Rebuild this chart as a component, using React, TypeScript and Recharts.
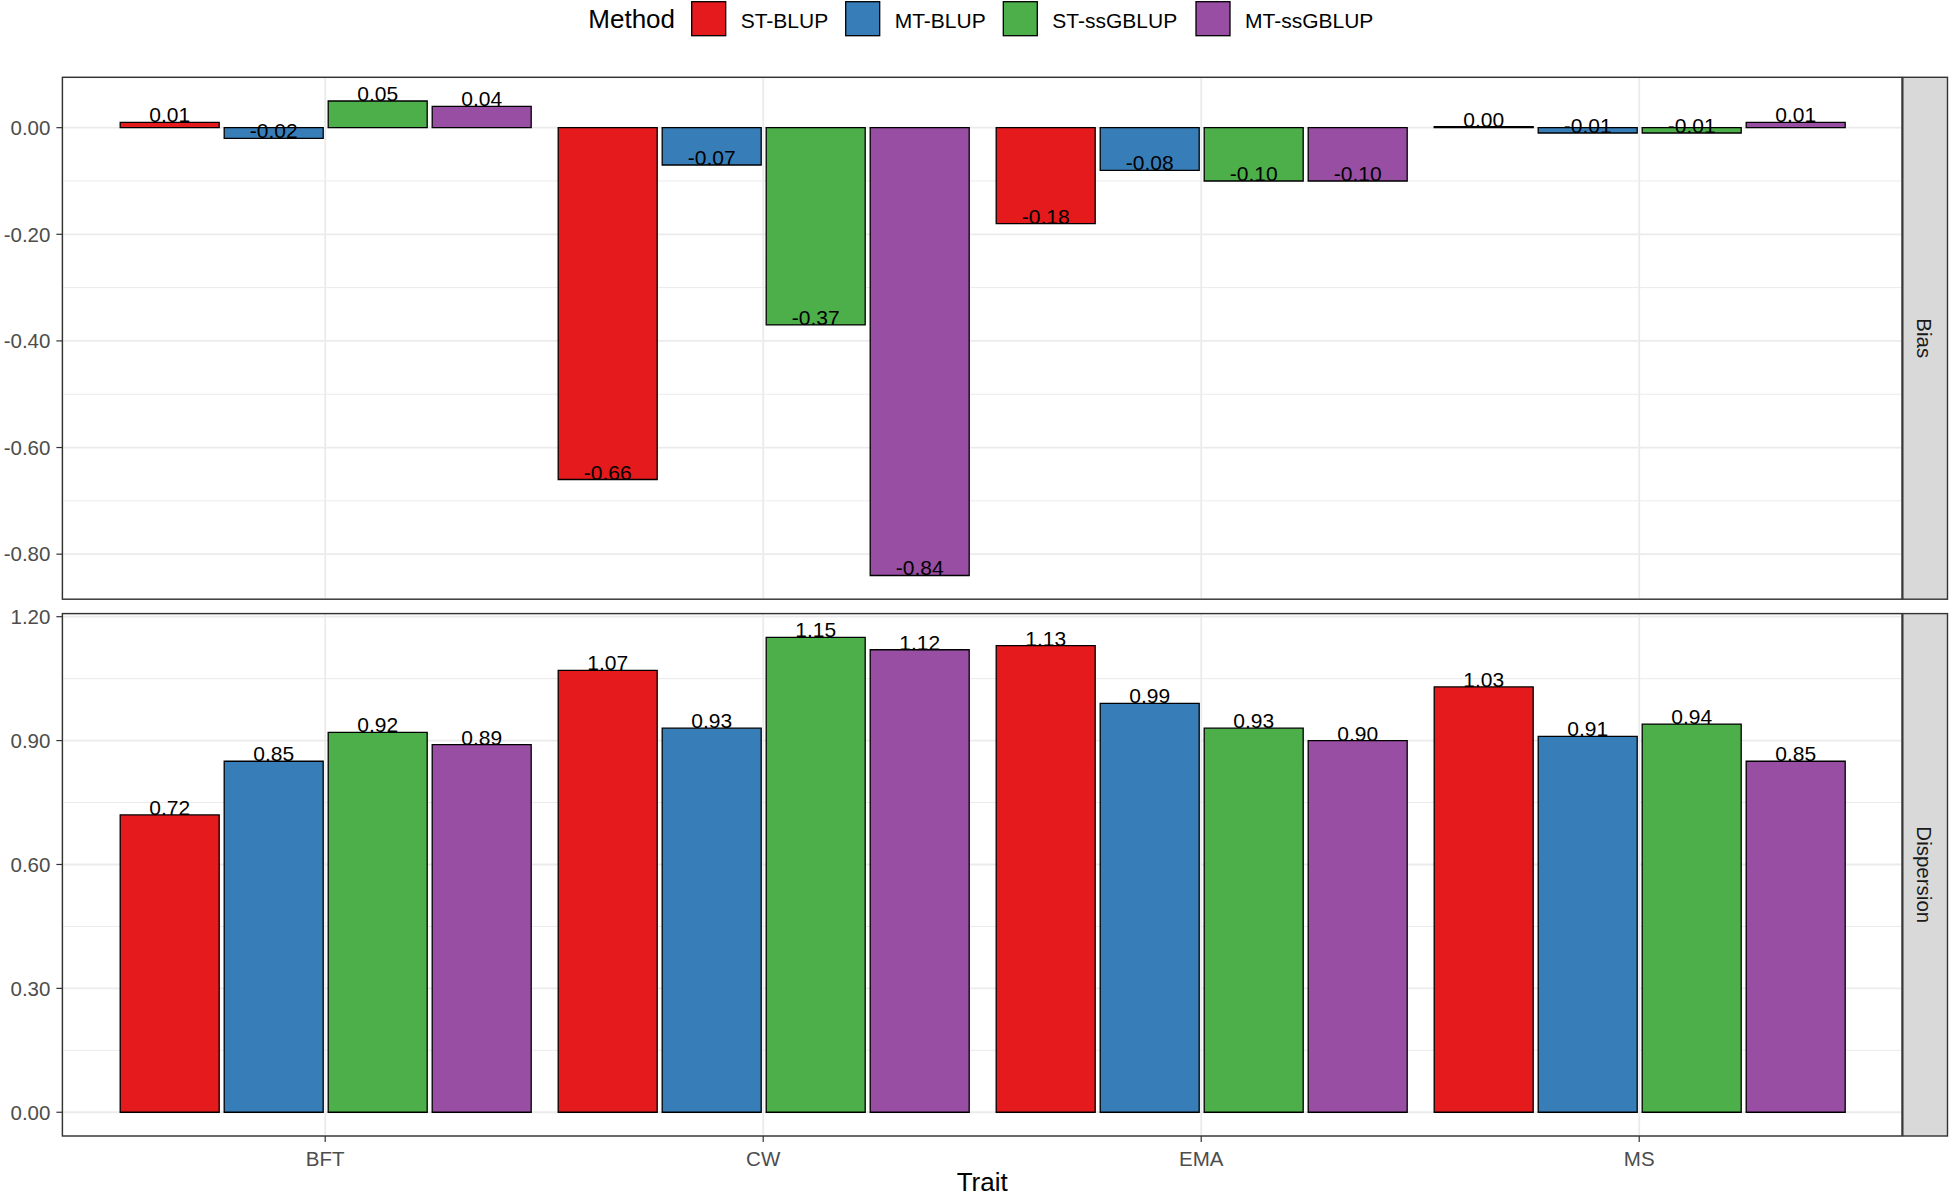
import React from 'react';
import { BarChart, Bar, XAxis, YAxis, CartesianGrid, LabelList } from 'recharts';

const traits = ['BFT', 'CW', 'EMA', 'MS'];
const methods = ['ST-BLUP', 'MT-BLUP', 'ST-ssGBLUP', 'MT-ssGBLUP'];
const methodColors = ['#E41A1C', '#377EB8', '#4DAF4A', '#984EA3'];

const biasSTBLUP = [0.01, -0.66, -0.18, 0.0];
const biasMTBLUP = [-0.02, -0.07, -0.08, -0.01];
const biasSTssGBLUP = [0.05, -0.37, -0.1, -0.01];
const biasMTssGBLUP = [0.04, -0.84, -0.1, 0.01];

const dispSTBLUP = [0.72, 1.07, 1.13, 1.03];
const dispMTBLUP = [0.85, 0.93, 0.99, 0.91];
const dispSTssGBLUP = [0.92, 1.15, 0.93, 0.94];
const dispMTssGBLUP = [0.89, 1.12, 0.9, 0.85];

const biasTicks = [-0.8, -0.6, -0.4, -0.2, 0];
const biasMinor = [-0.7, -0.5, -0.3, -0.1];
const dispTicks = [0, 0.3, 0.6, 0.9, 1.2];
const dispMinor = [0.15, 0.45, 0.75, 1.05];

const FONT = "'Liberation Sans', Arial, Helvetica, sans-serif";

const buildRows = (series: number[][]) =>
  traits.map((t, i) => {
    const row: Record<string, any> = { trait: t };
    methods.forEach((m, j) => {
      row[m] = series[j][i];
    });
    return row;
  });

const biasRows = buildRows([biasSTBLUP, biasMTBLUP, biasSTssGBLUP, biasMTssGBLUP]);
const dispRows = buildRows([dispSTBLUP, dispMTBLUP, dispSTssGBLUP, dispMTssGBLUP]);

const expandDomain = (series: number[][]): [number, number] => {
  const all = series.flat().concat([0]);
  const lo = Math.min(...all);
  const hi = Math.max(...all);
  const r = hi - lo;
  return [lo - 0.05 * r, hi + 0.05 * r];
};

const biasDomain = expandDomain([biasSTBLUP, biasMTBLUP, biasSTssGBLUP, biasMTssGBLUP]);
const dispDomain = expandDomain([dispSTBLUP, dispMTBLUP, dispSTssGBLUP, dispMTssGBLUP]);

// layout
const W = 1950;
const H = 1197;
const PL = 62.4;
const PR = 1902;
const TOP1 = 77.3;
const BOT1 = 599.2;
const TOP2 = 613.6;
const BOT2 = 1136;
const STRIP_R = 1947.5;

const renderLabel = (props: any) => {
  const { x, y, width, height, value } = props;
  const v = Number(value);
  const a = Number(y);
  const b = Number(y) + Number(height);
  const ty = v >= 0 ? Math.min(a, b) : Math.max(a, b);
  return (
    <text
      x={Number(x) + Number(width) / 2}
      y={ty}
      textAnchor="middle"
      fontSize={21}
      fontFamily={FONT}
      fill="#000000"
    >
      {v.toFixed(2)}
    </text>
  );
};

type PanelProps = {
  rows: any[];
  domain: [number, number];
  ticks: number[];
  minor: number[];
  height: number;
  top: number;
  marginTop: number;
  showX: boolean;
  xHeight: number;
};

const Panel = ({ rows, domain, ticks, minor, height, top, marginTop, showX, xHeight }: PanelProps) => (
  <div style={{ position: 'absolute', left: 0, top, width: W, height }}>
    <BarChart
      width={W}
      height={height}
      data={rows}
      margin={{ top: marginTop, right: W - PR, bottom: showX ? 0 : height - marginTop - (BOT1 - TOP1), left: 0 }}
      barCategoryGap={14}
      barGap={5}
    >
      <CartesianGrid horizontal={false} vertical={true} stroke="#EBEBEB" strokeWidth={1.8} />
      <CartesianGrid horizontal={true} vertical={false} horizontalValues={minor} stroke="#EBEBEB" strokeWidth={1} />
      <CartesianGrid horizontal={true} vertical={false} stroke="#EBEBEB" strokeWidth={1.8} />
      <XAxis
        dataKey="trait"
        type="category"
        hide={!showX}
        height={xHeight}
        padding={{ left: 43.8, right: 43.8 }}
        axisLine={false}
        tickSize={6}
        tickMargin={9}
        tickLine={{ stroke: '#333333', strokeWidth: 1.2 }}
        tick={{ fill: '#4D4D4D', fontSize: 20.5, fontFamily: FONT }}
        interval={0}
      />
      <YAxis
        type="number"
        domain={domain}
        ticks={ticks}
        width={PL}
        allowDataOverflow={true}
        axisLine={false}
        tickSize={6}
        tickMargin={6}
        tickLine={{ stroke: '#333333', strokeWidth: 1.2 }}
        tick={{ fill: '#4D4D4D', fontSize: 20.5, fontFamily: FONT }}
        tickFormatter={(v: number) => v.toFixed(2)}
        interval={0}
      />
      {methods.map((m, i) => (
        <Bar
          key={m}
          dataKey={m}
          fill={methodColors[i]}
          stroke="#000000"
          strokeWidth={1.3}
          minPointSize={1}
          isAnimationActive={false}
        >
          <LabelList dataKey={m} content={renderLabel} />
        </Bar>
      ))}
    </BarChart>
  </div>
);

const legendKeyX = [691.7, 845.7, 1003.3, 1196];

const Overlay = () => (
  <svg
    width={W}
    height={H}
    style={{ position: 'absolute', left: 0, top: 0, pointerEvents: 'none' }}
    fontFamily={FONT}
  >
    {/* legend */}
    <text x={588.3} y={28.3} fontSize={26} fill="#000000">
      Method
    </text>
    {methods.map((m, i) => (
      <g key={m}>
        <rect
          x={legendKeyX[i]}
          y={1.7}
          width={34}
          height={34}
          fill={methodColors[i]}
          stroke="#000000"
          strokeWidth={1.3}
        />
        <text x={legendKeyX[i] + 49} y={27.7} fontSize={21} fill="#000000">
          {m}
        </text>
      </g>
    ))}
    {/* panel borders */}
    <rect x={PL} y={TOP1} width={PR - PL} height={BOT1 - TOP1} fill="none" stroke="#333333" strokeWidth={1.4} />
    <rect x={PL} y={TOP2} width={PR - PL} height={BOT2 - TOP2} fill="none" stroke="#333333" strokeWidth={1.4} />
    {/* strips */}
    <rect x={PR + 0.8} y={TOP1} width={STRIP_R - PR - 0.8} height={BOT1 - TOP1} fill="#D9D9D9" stroke="#333333" strokeWidth={1.4} />
    <rect x={PR + 0.8} y={TOP2} width={STRIP_R - PR - 0.8} height={BOT2 - TOP2} fill="#D9D9D9" stroke="#333333" strokeWidth={1.4} />
    <text
      x={(PR + STRIP_R) / 2}
      y={(TOP1 + BOT1) / 2}
      fontSize={20.5}
      fill="#1A1A1A"
      textAnchor="middle"
      dominantBaseline="central"
      transform={`rotate(90 ${(PR + STRIP_R) / 2} ${(TOP1 + BOT1) / 2})`}
    >
      Bias
    </text>
    <text
      x={(PR + STRIP_R) / 2}
      y={(TOP2 + BOT2) / 2}
      fontSize={20.5}
      fill="#1A1A1A"
      textAnchor="middle"
      dominantBaseline="central"
      transform={`rotate(90 ${(PR + STRIP_R) / 2} ${(TOP2 + BOT2) / 2})`}
    >
      Dispersion
    </text>
    {/* x title */}
    <text x={(PL + PR) / 2} y={1191} fontSize={26} fill="#000000" textAnchor="middle">
      Trait
    </text>
  </svg>
);

export default function App() {
  return (
    <div style={{ position: 'absolute', left: 0, top: 0, width: W, height: H, background: '#FFFFFF', overflow: 'hidden' }}>
      <Panel
        rows={biasRows}
        domain={biasDomain}
        ticks={biasTicks}
        minor={biasMinor}
        height={620}
        top={0}
        marginTop={TOP1}
        showX={false}
        xHeight={0}
      />
      <Panel
        rows={dispRows}
        domain={dispDomain}
        ticks={dispTicks}
        minor={dispMinor}
        height={H - 600}
        top={600}
        marginTop={TOP2 - 600}
        showX={true}
        xHeight={H - 600 - (BOT2 - TOP2) - (TOP2 - 600)}
      />
      <Overlay />
    </div>
  );
}
